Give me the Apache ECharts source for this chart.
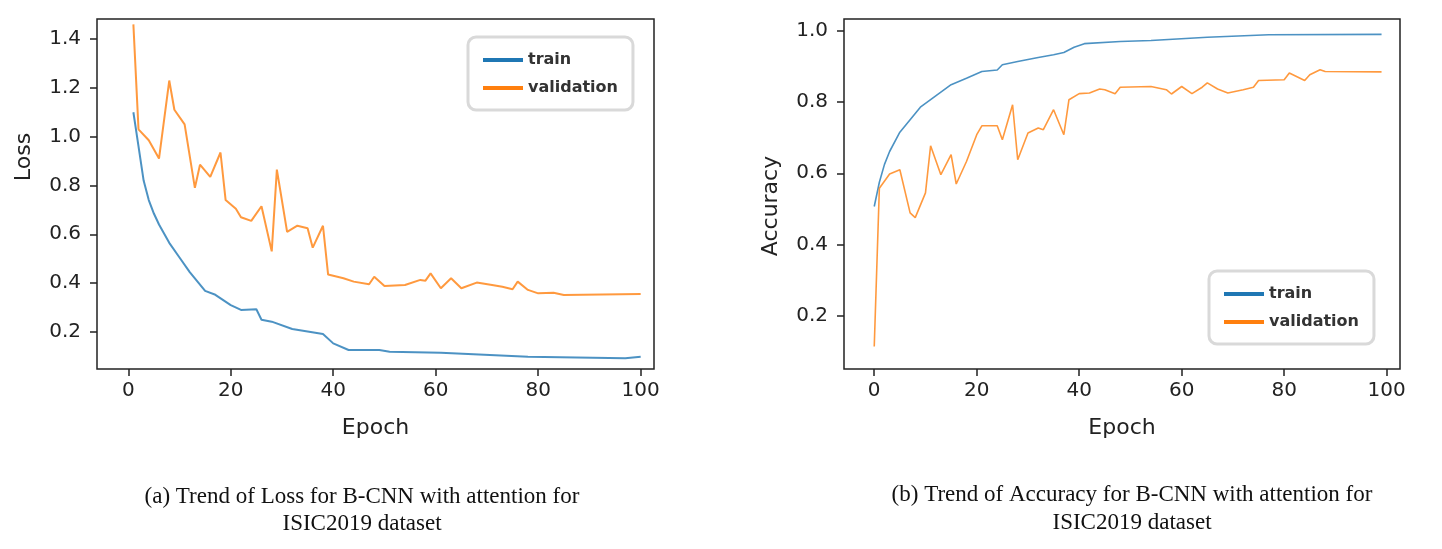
<!DOCTYPE html>
<html>
<head>
<meta charset="utf-8">
<script src="https://cdn.jsdelivr.net/npm/echarts@6/dist/echarts.min.js"></script>
<style>
  html, body { margin: 0; padding: 0; background: #fff; }
  #chart { width: 1442px; height: 549px; }
</style>
</head>
<body>
<div id="chart"></div>
<script>
// ticks
const epochTicks = [0, 20, 40, 60, 80, 100];
const lossTicks = [0.2, 0.4, 0.6, 0.8, 1.0, 1.2, 1.4];
const accTicks = [0.2, 0.4, 0.6, 0.8, 1.0];

// (a) loss
const lossTrainEpoch = [1, 2, 3, 4, 5, 6, 8, 10, 12, 15, 17, 20, 22, 24, 25, 26, 28, 32, 38, 40, 43, 49, 51, 61, 78, 97, 100];
const lossTrain = [1.10, 0.96, 0.82, 0.74, 0.685, 0.64, 0.565, 0.505, 0.445, 0.368, 0.352, 0.31, 0.29, 0.292, 0.293, 0.25, 0.242, 0.212, 0.191, 0.153, 0.126, 0.126, 0.119, 0.115, 0.098, 0.092, 0.098];

const lossValEpoch = [1, 2, 4, 6, 8, 9, 11, 13, 14, 16, 18, 19, 21, 22, 24, 26, 28, 29, 31, 33, 35, 36, 38, 39, 42, 44, 47, 48, 50, 54, 57, 58, 59, 61, 63, 65, 68, 71, 73, 75, 76, 78, 80, 83, 85, 100];
const lossVal = [1.46, 1.03, 0.985, 0.91, 1.23, 1.11, 1.05, 0.79, 0.885, 0.835, 0.935, 0.74, 0.705, 0.67, 0.655, 0.715, 0.53, 0.865, 0.61, 0.635, 0.625, 0.545, 0.635, 0.435, 0.42, 0.406, 0.395, 0.426, 0.388, 0.392, 0.413, 0.41, 0.44, 0.379, 0.42, 0.379, 0.402, 0.392, 0.385, 0.375, 0.406, 0.372, 0.358, 0.36, 0.351, 0.355];

// (b) accuracy
const accTrainEpoch = [0, 1, 2, 3, 5, 7, 9, 12, 15, 18, 21, 24, 25, 28, 32, 35, 37, 39, 41, 48, 54, 65, 77, 99];
const accTrain = [0.507, 0.575, 0.625, 0.661, 0.715, 0.75, 0.785, 0.817, 0.848, 0.866, 0.885, 0.889, 0.904, 0.913, 0.924, 0.932, 0.938, 0.953, 0.963, 0.969, 0.972, 0.981, 0.988, 0.989];

const accValEpoch = [0, 1, 3, 5, 7, 8, 10, 11, 13, 15, 16, 18, 20, 21, 24, 25, 27, 28, 30, 32, 33, 35, 37, 38, 40, 42, 44, 45, 47, 48, 54, 57, 58, 60, 62, 64, 65, 67, 69, 72, 74, 75, 80, 81, 84, 85, 87, 88, 99];
const accVal = [0.115, 0.558, 0.598, 0.61, 0.489, 0.476, 0.545, 0.677, 0.596, 0.652, 0.57, 0.633, 0.708, 0.733, 0.733, 0.694, 0.792, 0.638, 0.713, 0.727, 0.722, 0.778, 0.708, 0.806, 0.823, 0.825, 0.836, 0.834, 0.823, 0.841, 0.843, 0.834, 0.822, 0.843, 0.823, 0.841, 0.853, 0.836, 0.825, 0.834, 0.841, 0.86, 0.862, 0.881, 0.86, 0.876, 0.89, 0.885, 0.884];

const pairs = (xs, ys) => xs.map((x, i) => [x, ys[i]]);

const BLUE = '#1f77b4', ORANGE = '#ff7f0e';
const FONT = 'DejaVu Sans';

function xAxisFor(grid, min) {
  return {
    type: 'value', gridIndex: grid, min: min, max: 102.6,
    name: 'Epoch', nameLocation: 'middle', nameGap: 48,
    nameTextStyle: { fontFamily: FONT, fontSize: 22, color: '#222' },
    splitLine: { show: false },
    axisLine: { show: false, onZero: false },
    axisTick: { show: true, customValues: epochTicks, length: 7, lineStyle: { color: '#222', width: 1.5 } },
    axisLabel: { customValues: epochTicks, margin: 12, fontFamily: FONT, fontSize: 20, color: '#222' }
  };
}

function yAxisFor(grid, min, max, ticks, name, pad) {
  return {
    type: 'value', gridIndex: grid, min: min, max: max,
    name: name, nameLocation: 'middle', nameGap: 62, nameRotate: 90,
    nameTextStyle: { fontFamily: FONT, fontSize: 22, color: '#222', padding: pad },
    splitLine: { show: false },
    axisLine: { show: false, onZero: false },
    axisTick: { show: true, customValues: ticks, length: 7, lineStyle: { color: '#222', width: 1.5 } },
    axisLabel: {
      customValues: ticks, margin: 16, fontFamily: FONT, fontSize: 20, color: '#222',
      formatter: v => v.toFixed(1)
    }
  };
}

function legendAt(left, top) {
  return {
    left: left, top: top, orient: 'vertical',
    data: ['train', 'validation'],
    icon: 'rect', itemWidth: 40, itemHeight: 4, itemGap: 10,
    selectedMode: false,
    padding: [14, 15, 13, 15],
    backgroundColor: '#fff',
    borderColor: '#d9d9d9', borderWidth: 3, borderRadius: 8,
    textStyle: { fontFamily: FONT, fontSize: 16, fontWeight: 'bold', color: '#333', lineHeight: 18 }
  };
}

function line(name, data, xi, color, w) {
  return {
    name: name, type: 'line', xAxisIndex: xi, yAxisIndex: xi,
    data: data, showSymbol: false, symbol: 'none', smooth: false,
    itemStyle: { color: color },
    lineStyle: { color: color, width: w, opacity: 0.8 },
    animation: false
  };
}

function caption(x, y, text) {
  return {
    type: 'text', x: x, y: y,
    style: {
      text: text, fill: '#111',
      font: '23px "Liberation Serif"',
      align: 'center', verticalAlign: 'middle'
    }
  };
}

const chart = echarts.init(document.getElementById('chart'));
chart.setOption({
  backgroundColor: '#fff',
  animation: false,
  grid: [
    { left: 97, top: 19, width: 557, height: 350, show: true, borderColor: '#222', borderWidth: 1.5, backgroundColor: 'transparent' },
    { left: 844, top: 19, width: 556, height: 350, show: true, borderColor: '#222', borderWidth: 1.5, backgroundColor: 'transparent' }
  ],
  xAxis: [xAxisFor(0, -6.1), xAxisFor(1, -5.9)],
  yAxis: [
    yAxisFor(0, 0.048, 1.482, lossTicks, 'Loss', [0, 0, 0, 74]),
    yAxisFor(1, 0.052, 1.032, accTicks, 'Accuracy', [0, 24, 0, 0])
  ],
  legend: [legendAt(468, 37), legendAt(1209, 271)],
  series: [
    line('train', pairs(lossTrainEpoch, lossTrain), 0, BLUE, 2),
    line('validation', pairs(lossValEpoch, lossVal), 0, ORANGE, 2),
    line('train', pairs(accTrainEpoch, accTrain), 1, BLUE, 1.6),
    line('validation', pairs(accValEpoch, accVal), 1, ORANGE, 1.6)
  ],
  graphic: [
    caption(362, 497, '(a) Trend of Loss for B-CNN with attention for'),
    caption(362, 524, 'ISIC2019 dataset'),
    caption(1132, 495, '(b) Trend of Accuracy for B-CNN with attention for'),
    caption(1132, 523, 'ISIC2019 dataset')
  ]
});
</script>
</body>
</html>
